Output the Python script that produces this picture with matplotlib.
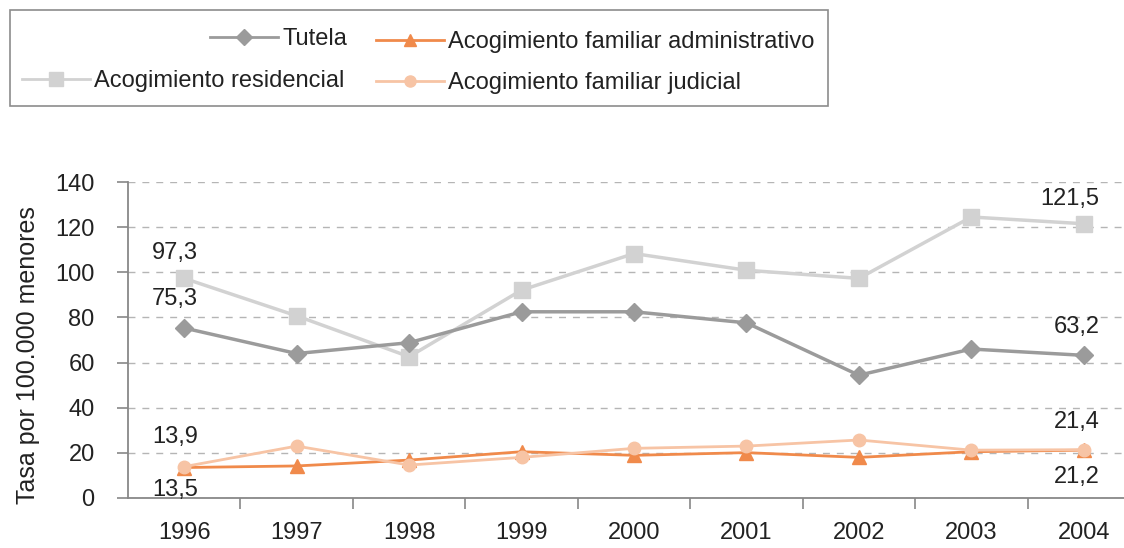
import matplotlib
matplotlib.use("Agg")
import matplotlib.pyplot as plt
from matplotlib.lines import Line2D
from matplotlib.patches import Rectangle

plt.rcParams['font.family'] = ['Liberation Sans', 'DejaVu Sans']

# data
years = ["1996", "1997", "1998", "1999", "2000", "2001", "2002", "2003", "2004"]
tutela = [75.3, 64.0, 68.8, 82.5, 82.5, 77.6, 54.4, 66.0, 63.2]
residencial = [97.3, 80.7, 62.6, 92.1, 108.3, 100.9, 97.3, 124.5, 121.5]
administrativo = [13.5, 14.2, 16.8, 20.5, 18.9, 20.1, 18.0, 20.5, 21.2]
judicial = [13.9, 23.0, 14.6, 18.0, 22.0, 23.0, 25.7, 21.2, 21.4]
yticks = [0, 20, 40, 60, 80, 100, 120, 140]

c_tut = "#9b9b9b"
c_res = "#d2d2d2"
c_adm = "#f08a4b"
c_jud = "#f7c4a5"
fs = 17

fig = plt.figure(figsize=(11.24, 5.48), dpi=100)
ax = fig.add_axes([128/1124, 50/548, 1012/1124, 316/548])

x = list(range(len(years)))
ax.plot(x, residencial, color=c_res, lw=2.5, marker="s", ms=11, zorder=3)
ax.plot(x, tutela, color=c_tut, lw=2.5, marker="D", ms=9, zorder=4)
ax.plot(x, administrativo, color=c_adm, lw=2, marker="^", ms=10, zorder=5)
ax.plot(x, judicial, color=c_jud, lw=2, marker="o", ms=9, zorder=6)

ax.set_xlim(-0.5, 8.5)
ax.set_ylim(0, 140)
ax.set_yticks(yticks)
ax.set_yticklabels([str(v) for v in yticks], fontsize=fs, color="#222222")
ax.set_xticks([i + 0.5 for i in x])
ax.set_xticklabels([])
ax.set_xticks(x, minor=True)
ax.set_xticklabels(years, minor=True, fontsize=fs, color="#222222")
ax.tick_params(axis="x", which="minor", length=0, pad=17)
ax.tick_params(axis="x", which="major", length=8, color="#888888", width=1.2)
ax.tick_params(axis="y", length=8, color="#888888", width=1.2, pad=16)
ax.yaxis.grid(True, ls=(0, (5, 5)), color="#b5b5b5", lw=1)
ax.set_axisbelow(True)
for s in ["top", "right"]:
    ax.spines[s].set_visible(False)
for s in ["left", "bottom"]:
    ax.spines[s].set_color("#888888")
    ax.spines[s].set_linewidth(1.3)
ax.set_ylabel("Tasa por 100.000 menores", fontsize=18, color="#222222")
ax.yaxis.set_label_coords((40 - 128)/1012, (498 - 355)/316)

def lab(series, i, dx, dy):
    ax.annotate(str(series[i]).replace(".", ","), (i, series[i]), xytext=(dx, dy),
                textcoords="offset pixels", ha="center", va="center",
                fontsize=fs, color="#222222", zorder=10)

lab(residencial, 0, -9, 25)
lab(tutela, 0, -9, 29)
lab(judicial, 0, -9, 30)
lab(administrativo, 0, -9, -22)
lab(residencial, 8, -14, 25)
lab(tutela, 8, -7, 28)
lab(judicial, 8, -7, 28)
lab(administrativo, 8, -7, -27)

# legend box
fig.patches.append(Rectangle((10/1124, 1 - 106/548), 818/1124, 96/548,
                             transform=fig.transFigure, fill=False,
                             edgecolor="#8c8c8c", lw=1.2))
entries = [
    ("Tutela", c_tut, "D", 8, 210, 39),
    ("Acogimiento residencial", c_res, "s", 10, 22, 81),
    ("Acogimiento familiar administrativo", c_adm, "^", 9, 376, 42),
    ("Acogimiento familiar judicial", c_jud, "o", 8, 376, 83),
]
for name, col, mk, ms, px, py in entries:
    h = Line2D([], [], color=col, lw=2, marker=mk, ms=ms)
    leg = fig.legend([h], [name], loc="center left",
                     bbox_to_anchor=(px/1124, 1 - py/548), frameon=False,
                     fontsize=fs, handlelength=2.9, handletextpad=0.15,
                     borderpad=0, borderaxespad=0)
    leg.get_texts()[0].set_color("#222222")

fig.savefig("out.png", dpi=100)
